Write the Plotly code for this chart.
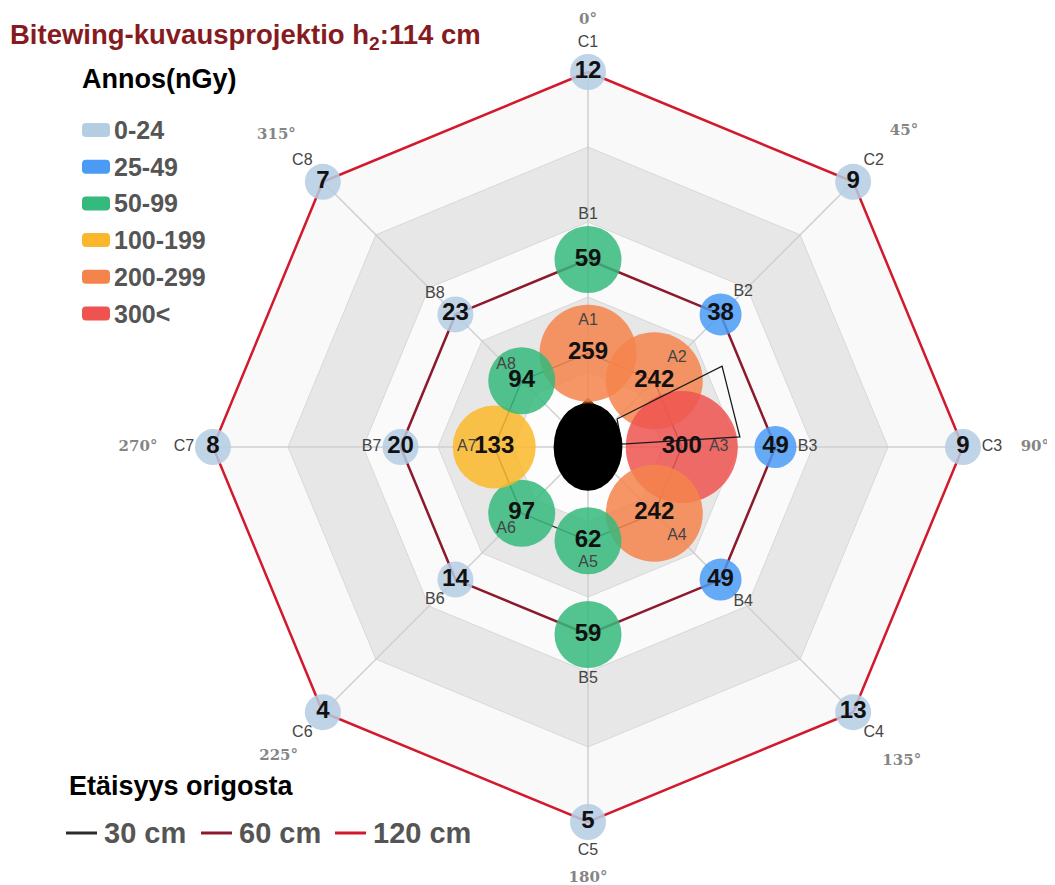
import numpy as np
import plotly.graph_objects as go

# ---------------- data ----------------
angles = [0, 45, 90, 135, 180, 225, 270, 315]
angle_labels = ["0°", "45°", "90°", "135°", "180°", "225°", "270°", "315°"]
angle_label_r = [136.5, 143, 143, 142, 138, 140, 144, 141]

distances = [30, 60, 120]
distance_names = ["30 cm", "60 cm", "120 cm"]
distance_colors = ["#2e2a2a", "#8c1a2d", "#d2192d"]
distance_widths = [1.3, 2.5, 2.5]

a_names = ["A1", "A2", "A3", "A4", "A5", "A6", "A7", "A8"]
a_values = [259, 242, 300, 242, 62, 97, 133, 94]
b_names = ["B1", "B2", "B3", "B4", "B5", "B6", "B7", "B8"]
b_values = [59, 38, 49, 49, 59, 14, 20, 23]
c_names = ["C1", "C2", "C3", "C4", "C5", "C6", "C7", "C8"]
c_values = [12, 9, 9, 13, 5, 4, 8, 7]

bin_labels = ["0-24", "25-49", "50-99", "100-199", "200-299", "300<"]
bin_lower = [0, 25, 50, 100, 200, 300]
bin_colors = ["#b5cde3", "#4a9bf6", "#35b97d", "#fbb82b", "#f5844c", "#ef5350"]
bin_sizes = [36, 42, 67, 83, 97, 112]

band_edges = [24, 48, 72, 96, 120]
band_colors = ["#fdfdfd", "#e7e7e7", "#fafafa", "#e7e7e7", "#f9f9f9"]

# head (ellipse, cm), nose and x-ray tube outline (polar, cm / degrees)
head_w, head_h = 22, 28
nose_r = [15.7, 13.9, 13.9]
nose_theta = [0, 352, 8]
tube_r = [12.9, 50.1, 48.7, 10.9]
tube_theta = [46, 58.9, 86.2, 85]

# ---------------- geometry ----------------
W, H = 1055, 885
OFF = 8                      # page body margin
CX, CY = 588 - OFF, 447 - OFF  # centre in figure px
R_MAX = 120
PPC = 375 / R_MAX            # px per cm


def pol2xy(r, theta):
    t = np.radians(np.asarray(theta, dtype=float))
    r = np.asarray(r, dtype=float)
    return r * np.sin(t), r * np.cos(t)


def bin_index(v):
    idx = 0
    for i, lo in enumerate(bin_lower):
        if v >= lo:
            idx = i
    return idx


fig = go.Figure()
closed = angles + [angles[0]]

# background bands
for e, col in sorted(zip(band_edges, band_colors), reverse=True):
    x, y = pol2xy([e] * len(closed), closed)
    fig.add_trace(go.Scatter(x=x, y=y, mode="lines", fill="toself", fillcolor=col,
                             line=dict(color="#d8d8d8", width=1),
                             hoverinfo="skip", showlegend=False))

# spokes
sx, sy = [], []
for a in angles:
    x, y = pol2xy([0, R_MAX], [a, a])
    sx += list(x) + [None]
    sy += list(y) + [None]
fig.add_trace(go.Scatter(x=sx, y=sy, mode="lines", line=dict(color="#cfcfcf", width=1.5),
                         hoverinfo="skip", showlegend=False))

# distance rings
for d, col, w in zip(distances, distance_colors, distance_widths):
    x, y = pol2xy([d] * len(closed), closed)
    fig.add_trace(go.Scatter(x=x, y=y, mode="lines", line=dict(color=col, width=w),
                             hoverinfo="skip", showlegend=False))

# nose
x, y = pol2xy(nose_r + [nose_r[0]], nose_theta + [nose_theta[0]])
fig.add_trace(go.Scatter(x=x, y=y, mode="lines", fill="toself", fillcolor="#8b4513",
                         line=dict(color="#8b4513", width=1),
                         hoverinfo="skip", showlegend=False))

rings = [(distances[2], c_names, c_values),
         (distances[1], b_names, b_values),
         (distances[0], a_names, a_values)]

for d, names, vals in rings:
    cols = [bin_colors[bin_index(v)] for v in vals]
    sizes = [bin_sizes[bin_index(v)] for v in vals]
    x, y = pol2xy([d] * len(vals), angles)
    fig.add_trace(go.Scatter(x=x, y=y, mode="markers",
                             marker=dict(color=cols, size=sizes, opacity=0.85, line=dict(width=0)),
                             cliponaxis=False, hoverinfo="skip", showlegend=False))

# x-ray tube outline
x, y = pol2xy(tube_r + [tube_r[0]], tube_theta + [tube_theta[0]])
fig.add_trace(go.Scatter(x=x, y=y, mode="lines", line=dict(color="#1a1a1a", width=1.3),
                         hoverinfo="skip", showlegend=False))

# value text and point names
for d, names, vals in rings:
    sizes = [bin_sizes[bin_index(v)] for v in vals]
    x, y = pol2xy([d] * len(vals), angles)
    fig.add_trace(go.Scatter(x=x, y=y, mode="text", text=[str(v) for v in vals],
                             texttemplate="<b>%{text}</b>", textposition="middle center",
                             textfont=dict(family="Liberation Sans", size=24, color="#111"),
                             cliponaxis=False, hoverinfo="skip", showlegend=False))
    if d == distances[0]:
        offs = [0.33 * s for s in sizes]
    else:
        offs = [s / 2 + 11 for s in sizes]
    x, y = pol2xy([d + o / PPC for o in offs], angles)
    fig.add_trace(go.Scatter(x=x, y=y, mode="text", text=names, textposition="middle center",
                             textfont=dict(family="Liberation Sans", size=16, color="#444"),
                             cliponaxis=False, hoverinfo="skip", showlegend=False))

# angle labels
x, y = pol2xy(angle_label_r, angles)
fig.add_trace(go.Scatter(x=x, y=y, mode="text", text=angle_labels,
                         texttemplate="<b>%{text}</b>", textposition="middle center",
                         textfont=dict(family="DejaVu Serif", size=15, color="#858585"),
                         cliponaxis=False, hoverinfo="skip", showlegend=False))

# ---------------- shapes / annotations ----------------
def px(X):
    return (X - OFF) / W


def py(Y):
    return 1 - (Y - OFF) / H


shapes = [dict(type="circle", xref="x", yref="y",
               x0=-head_w / 2, x1=head_w / 2, y0=-head_h / 2, y1=head_h / 2,
               fillcolor="#000", line=dict(color="#000", width=0), layer="above")]

annotations = [
    dict(x=px(8), y=py(36), xref="paper", yref="paper", xanchor="left", yanchor="middle",
         showarrow=False, text="<b>Bitewing-kuvausprojektio h<sub>2</sub>:114 cm</b>",
         font=dict(family="Liberation Sans", size=27.5, color="#861b1f")),
    dict(x=px(80), y=py(79), xref="paper", yref="paper", xanchor="left", yanchor="middle",
         showarrow=False, text="<b>Annos(nGy)</b>",
         font=dict(family="Liberation Sans", size=27, color="#000")),
]

leg_y0, leg_dy = 130, 36.7
for i, (lab, col) in enumerate(zip(bin_labels, bin_colors)):
    yc = leg_y0 + i * leg_dy
    x0, x1, y0, y1, rr = 82, 110, yc - 7, yc + 7, 4
    path = (f"M {px(x0+rr)},{py(y0)} L {px(x1-rr)},{py(y0)} "
            f"Q {px(x1)},{py(y0)} {px(x1)},{py(y0+rr)} L {px(x1)},{py(y1-rr)} "
            f"Q {px(x1)},{py(y1)} {px(x1-rr)},{py(y1)} L {px(x0+rr)},{py(y1)} "
            f"Q {px(x0)},{py(y1)} {px(x0)},{py(y1-rr)} L {px(x0)},{py(y0+rr)} "
            f"Q {px(x0)},{py(y0)} {px(x0+rr)},{py(y0)} Z")
    shapes.append(dict(type="path", xref="paper", yref="paper", path=path,
                       fillcolor=col, line=dict(width=0)))
    annotations.append(dict(x=px(112), y=py(yc), xref="paper", yref="paper",
                            xanchor="left", yanchor="middle", showarrow=False,
                            text=f"<b>{lab}</b>",
                            font=dict(family="Liberation Sans", size=25, color="#555")))

annotations.append(dict(x=px(67), y=py(786), xref="paper", yref="paper",
                        xanchor="left", yanchor="middle", showarrow=False,
                        text="<b>Etäisyys origosta</b>",
                        font=dict(family="Liberation Sans", size=27, color="#000")))
line_x = [66, 201, 335]
for lx, name, col in zip(line_x, distance_names, distance_colors):
    shapes.append(dict(type="line", xref="paper", yref="paper",
                       x0=px(lx), x1=px(lx + 31), y0=py(833), y1=py(833),
                       line=dict(color=col, width=3)))
    annotations.append(dict(x=px(lx + 36), y=py(833), xref="paper", yref="paper",
                            xanchor="left", yanchor="middle", showarrow=False,
                            text=f"<b>{name}</b>",
                            font=dict(family="Liberation Sans", size=29, color="#555")))

fig.update_layout(
    width=W, height=H,
    margin=dict(l=0, r=0, t=0, b=0),
    paper_bgcolor="#ffffff",
    plot_bgcolor="rgba(0,0,0,0)",
    showlegend=False,
    xaxis=dict(range=[-CX / PPC, (W - CX) / PPC], visible=False, fixedrange=True),
    yaxis=dict(range=[-(H - CY) / PPC, CY / PPC], visible=False, fixedrange=True),
    shapes=shapes,
    annotations=annotations,
)

fig.write_html("out.html")
